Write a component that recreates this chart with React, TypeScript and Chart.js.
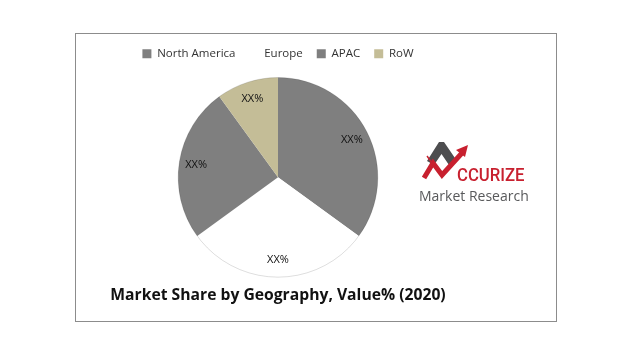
import React, { useEffect, useRef } from "react";
import { Chart, registerables } from "chart.js";

Chart.register(...registerables);

const categories = ["North America", "Europe", "APAC", "RoW"];
const values = [35, 30, 25, 10];
const sliceLabels = ["XX%", "XX%", "XX%", "XX%"];
const sliceColors = ["#7f7f7f", "#ffffff", "#7f7f7f", "#c4bd97"];
const titleText = "Market Share by Geography, Value% (2020)";

const FONT = "'Open Sans', 'Noto Sans', sans-serif";

const legendGapPlugin = {
  id: "legendGapPlugin",
  beforeInit(chart: any) {
    const legend = chart.legend;
    if (!legend) return;
    const origFit = legend.fit;
    legend.fit = function () {
      origFit.call(this);
      this.height += 8;
    };
  },
};

const sliceLabelPlugin = {
  id: "sliceLabelPlugin",
  afterDatasetsDraw(chart: any) {
    const ctx = chart.ctx;
    const meta = chart.getDatasetMeta(0);
    ctx.save();
    if (meta.data.length) {
      const p = meta.data[0].getProps(["x", "y", "outerRadius"], true);
      ctx.beginPath();
      ctx.arc(p.x, p.y, p.outerRadius, 0, Math.PI * 2);
      ctx.strokeStyle = "rgba(0,0,0,0.13)";
      ctx.lineWidth = 1;
      ctx.stroke();
    }
    ctx.font = `11px ${FONT}`;
    ctx.fillStyle = "#111";
    ctx.textAlign = "center";
    ctx.textBaseline = "middle";
    meta.data.forEach((arc: any, i: number) => {
      const { x, y, startAngle, endAngle, outerRadius } = arc.getProps(
        ["x", "y", "startAngle", "endAngle", "outerRadius"],
        true
      );
      const mid = (startAngle + endAngle) / 2;
      const r = outerRadius * 0.83;
      ctx.fillText(sliceLabels[i], x + Math.cos(mid) * r, y + Math.sin(mid) * r);
    });
    ctx.restore();
  },
};

function PieChart() {
  const ref = useRef<HTMLCanvasElement>(null);
  useEffect(() => {
    if (!ref.current) return;
    const chart = new Chart(ref.current, {
      type: "pie",
      data: {
        labels: categories,
        datasets: [
          {
            data: values,
            backgroundColor: sliceColors,
            borderWidth: 0,
          },
        ],
      },
      options: {
        responsive: false,
        animation: false,
        layout: { padding: { top: 4, bottom: 4 } },
        plugins: {
          tooltip: { enabled: false },
          legend: {
            position: "top",
            labels: {
              boxWidth: 9,
              boxHeight: 9,
              padding: 14,
              color: "#333",
              font: { family: FONT, size: 11.5 },
            },
          },
          title: {
            display: true,
            position: "bottom",
            text: titleText,
            color: "#111",
            font: { family: FONT, size: 15.7, weight: "bold" },
            padding: { top: 9, bottom: 12 },
          },
        },
      },
      plugins: [legendGapPlugin, sliceLabelPlugin],
    });
    return () => chart.destroy();
  }, []);
  return (
    <canvas
      ref={ref}
      width={402}
      height={291}
      style={{ position: "absolute", left: 1, top: -4, width: 402, height: 291 }}
    />
  );
}

function Logo() {
  return (
    <div style={{ position: "absolute", left: 342, top: 108, width: 120, height: 60 }}>
      <svg width="52" height="40" style={{ position: "absolute", left: 2, top: 0 }}>
        <polygon
          points="19,0 24,0 37,19 29,23 21.5,12 14,23 7,19"
          fill="#4d4d4f"
        />
        <polyline
          points="4,36 13,21 22,33 42,11"
          fill="none"
          stroke="#c8202f"
          strokeWidth="5"
          strokeLinejoin="miter"
        />
        <line x1="7" y1="14" x2="20" y2="32" stroke="#c8202f" strokeWidth="1.4" />
        <polygon points="36,8 48,3 45,15" fill="#c8202f" />
      </svg>
      <div
        style={{
          position: "absolute",
          left: 39,
          top: 23,
          fontFamily: "'Roboto', 'Noto Sans', sans-serif",
          fontWeight: 500,
          fontSize: 19,
          transform: "scaleX(0.88)",
          transformOrigin: "left top",
          color: "#c8202f",
          lineHeight: "20px",
          whiteSpace: "nowrap",
        }}
      >
        CCURIZE
      </div>
      <div
        style={{
          position: "absolute",
          left: 1,
          top: 46,
          fontFamily: "'Open Sans', 'Noto Sans', sans-serif",
          fontSize: 14,
          color: "#58595b",
          lineHeight: "16px",
          whiteSpace: "nowrap",
        }}
      >
        Market Research
      </div>
    </div>
  );
}

export default function App() {
  return (
    <div
      style={{
        position: "fixed",
        left: 0,
        top: 0,
        width: 640,
        height: 357,
        background: "#fff",
        overflow: "hidden",
      }}
    >
      <div
        style={{
          position: "absolute",
          left: 75,
          top: 33,
          width: 480,
          height: 287,
          border: "1px solid #8c8c8c",
          boxSizing: "content-box",
          overflow: "visible",
        }}
      >
        <PieChart />
        <Logo />
      </div>
    </div>
  );
}
